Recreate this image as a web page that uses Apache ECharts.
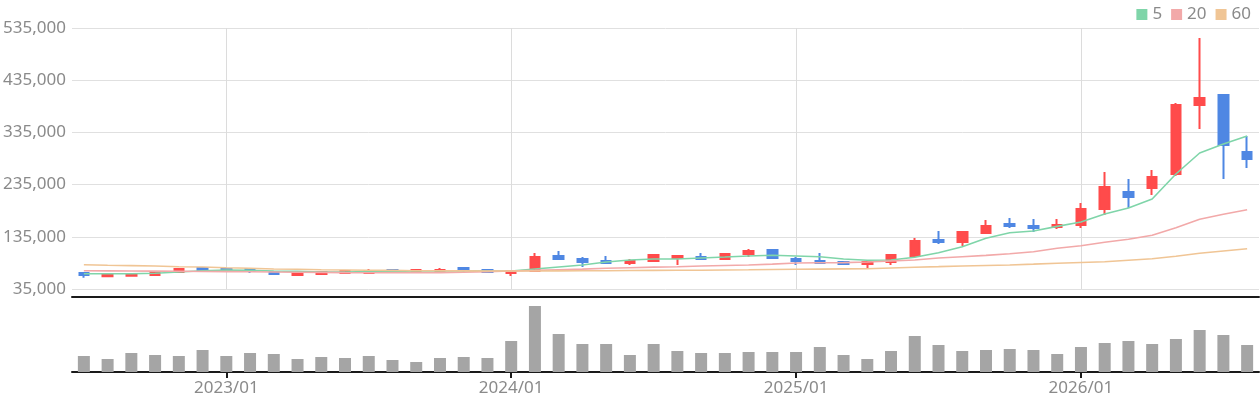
<!DOCTYPE html>
<html>
<head>
<meta charset="utf-8" />
<script src="https://cdn.jsdelivr.net/npm/echarts@6/dist/echarts.min.js"></script>
<style>
  html, body { margin: 0; padding: 0; background: #fff; }
  #chart { width: 1260px; height: 400px; }
</style>
</head>
<body>
<div id="chart"></div>
<script>
const months = [
  "2022/07", "2022/08", "2022/09", "2022/10", "2022/11", "2022/12",
  "2023/01", "2023/02", "2023/03", "2023/04", "2023/05", "2023/06",
  "2023/07", "2023/08", "2023/09", "2023/10", "2023/11", "2023/12",
  "2024/01", "2024/02", "2024/03", "2024/04", "2024/05", "2024/06",
  "2024/07", "2024/08", "2024/09", "2024/10", "2024/11", "2024/12",
  "2025/01", "2025/02", "2025/03", "2025/04", "2025/05", "2025/06",
  "2025/07", "2025/08", "2025/09", "2025/10", "2025/11", "2025/12",
  "2026/01", "2026/02", "2026/03", "2026/04", "2026/05", "2026/06",
  "2026/07", "2026/08",
];

const openPrices = [
  65650, 59560, 60480, 61820, 67570, 75230, 73300, 73300, 67570, 61820,
  63730, 65650, 65650, 71400, 67570, 67570, 75230, 71400, 65650, 69480,
  98200, 92470, 88640, 84800, 88640, 94390, 96300, 92470, 102050, 109700,
  92470, 88640, 86720, 82900, 86720, 98220, 128870, 125040, 142280, 159520,
  155690, 153770, 157600, 188260, 220820, 228480, 255300, 387490, 406650, 297450,
];
const closePrices = [
  61800, 62800, 63730, 67570, 73300, 71400, 69480, 69480, 63730, 66220,
  67570, 69480, 69480, 67570, 71400, 71400, 71400, 67570, 69480, 96300,
  92470, 86720, 84800, 88640, 100130, 98220, 92470, 102050, 107800, 94390,
  88640, 84800, 82900, 86720, 100130, 126950, 125040, 144200, 155690, 155690,
  151860, 157600, 188260, 230400, 211240, 249560, 387490, 400900, 310860, 284040,
];
const lowPrices = [
  56650, 59560, 60480, 60480, 66200, 67570, 69480, 65650, 61820, 61820,
  63730, 63730, 65650, 65650, 67570, 67570, 67570, 67570, 59900, 69480,
  90550, 77150, 84800, 80980, 87700, 80980, 92470, 90550, 96300, 94390,
  80980, 84800, 80980, 73300, 80980, 98220, 121200, 117380, 140360, 151860,
  144200, 149940, 151860, 176760, 190170, 215070, 251470, 341510, 245730, 266800,
];
const highPrices = [
  65650, 63700, 65650, 67570, 74000, 75230, 73300, 73300, 67570, 67570,
  67570, 69480, 73300, 71400, 73300, 75230, 75230, 73300, 69480, 104000,
  107800, 96300, 98220, 92470, 101000, 98220, 104000, 104000, 111630, 109700,
  96300, 104000, 86720, 86720, 100130, 132700, 146110, 146110, 167180, 171010,
  169100, 169100, 199750, 259140, 245730, 262970, 391320, 515840, 408560, 328100,
];

const ma5 = [
  64300, 64300, 64300, 65100, 67570, 70060, 71400, 70800, 69480, 68850,
  67570, 67570, 68200, 68850, 69480, 69480, 70060, 69480, 69480, 73300,
  77150, 80980, 86720, 90550, 92470, 92470, 94390, 96300, 98220, 99560,
  98220, 96880, 92470, 90000, 90550, 95730, 104540, 116000, 132130, 142860,
  146110, 155000, 163350, 178680, 190170, 207410, 255300, 295530, 312770, 328100,
];
const ma20 = [
  70060, 69800, 69480, 69200, 68900, 68600, 68300, 68000, 67600, 67200,
  66800, 66400, 66200, 66000, 66000, 66400, 67200, 68300, 69480, 70600,
  71800, 73000, 74650, 75800, 76900, 77700, 79000, 80000, 80980, 82700,
  84800, 85380, 85600, 86720, 88640, 90550, 94390, 96880, 99500, 102500,
  106450, 112980, 117950, 124460, 130200, 137870, 152430, 168520, 178100, 186910,
];
const ma60 = [
  81550, 80400, 79700, 79060, 77720, 77150, 75800, 74650, 73300, 72700,
  72000, 71400, 70800, 70700, 70060, 70060, 69800, 69480, 69480, 69480,
  69800, 70060, 70060, 70300, 70600, 70800, 71000, 71400, 71800, 72300,
  72740, 73100, 73500, 73900, 75200, 76570, 77800, 79060, 80000, 80980,
  82600, 84230, 85800, 87300, 90200, 93050, 97640, 103390, 107800, 112200,
];

const volumes = [
  1600000, 1300000, 1900000, 1700000, 1600000, 2200000, 1600000, 1900000, 1800000, 1300000,
  1500000, 1400000, 1600000, 1200000, 1000000, 1400000, 1500000, 1400000, 3100000, 6600000,
  3800000, 2800000, 2800000, 1700000, 2800000, 2100000, 1900000, 1900000, 2000000, 2000000,
  2000000, 2500000, 1700000, 1300000, 2100000, 3600000, 2700000, 2100000, 2200000, 2300000,
  2200000, 1800000, 2500000, 2900000, 3100000, 2800000, 3300000, 4200000, 3700000, 2700000,
];

const candles = months.map((m, i) => [
  openPrices[i],
  closePrices[i],
  lowPrices[i],
  highPrices[i],
]);

const isJanuary = (idx, value) => value.endsWith("/01");
const labelFont = "'Noto Sans', 'Open Sans', sans-serif";

const chart = echarts.init(document.getElementById("chart"));
chart.setOption({
  animation: false,
  legend: {
    data: ["5", "20", "60"],
    right: 4,
    top: 1,
    icon: "rect",
    itemWidth: 11,
    itemHeight: 11,
    itemGap: 9,
    textStyle: { color: "#8a8a8a", fontSize: 17, fontFamily: labelFont },
  },
  grid: [
    { left: 72, right: 1, top: 28, height: 261 },
    { left: 72, right: 1, top: 297, height: 75 },
  ],
  xAxis: [
    {
      type: "category",
      gridIndex: 0,
      data: months,
      boundaryGap: true,
      offset: 8,
      axisLine: { show: true, onZero: false, lineStyle: { color: "#1a1a1a", width: 2 } },
      axisTick: { show: false },
      axisLabel: { show: false, interval: isJanuary },
      splitLine: {
        show: true,
        interval: isJanuary,
        alignWithLabel: true,
        lineStyle: { color: "#dcdcdc", width: 1 },
      },
    },
    {
      type: "category",
      gridIndex: 1,
      data: months,
      boundaryGap: true,
      axisLine: { show: true, lineStyle: { color: "#1a1a1a", width: 2 } },
      axisTick: {
        show: true,
        alignWithLabel: true,
        interval: isJanuary,
        length: 6,
        lineStyle: { color: "#1a1a1a", width: 2 },
      },
      axisLabel: {
        interval: isJanuary,
        color: "#8a8a8a",
        fontSize: 17,
        fontFamily: labelFont,
        margin: 8,
      },
      splitLine: { show: false },
    },
  ],
  yAxis: [
    {
      type: "value",
      gridIndex: 0,
      min: 35000,
      max: 535000,
      interval: 100000,
      axisLine: { show: false },
      axisTick: { show: false },
      axisLabel: {
        color: "#8a8a8a",
        fontSize: 17,
        fontFamily: labelFont,
        margin: 6,
        formatter: (v) => String(v).replace(/\B(?=(\d{3})+(?!\d))/g, ","),
      },
      splitLine: { lineStyle: { color: "#e0e0e0", width: 1 } },
    },
    {
      type: "value",
      gridIndex: 1,
      min: 0,
      max: 7500000,
      axisLine: { show: false },
      axisTick: { show: false },
      axisLabel: { show: false },
      splitLine: { show: false },
    },
  ],
  series: [
    {
      name: "price",
      type: "candlestick",
      xAxisIndex: 0,
      yAxisIndex: 0,
      data: candles,
      barWidth: 10,
      itemStyle: {
        color: "#ff4b4b",
        color0: "#4f87e3",
        borderColor: "#ff4b4b",
        borderColor0: "#4f87e3",
        borderWidth: 2,
      },
    },
    {
      name: "5",
      type: "line",
      data: ma5,
      symbol: "none",
      color: "#7fd5a9",
      lineStyle: { width: 1.6 },
    },
    {
      name: "20",
      type: "line",
      data: ma20,
      symbol: "none",
      color: "#f2a9a9",
      lineStyle: { width: 1.6 },
    },
    {
      name: "60",
      type: "line",
      data: ma60,
      symbol: "none",
      color: "#f0c595",
      lineStyle: { width: 1.6 },
    },
    {
      name: "volume",
      type: "bar",
      xAxisIndex: 1,
      yAxisIndex: 1,
      data: volumes,
      barWidth: 12,
      itemStyle: { color: "#a5a5a5" },
    },
  ],
});
</script>
</body>
</html>
